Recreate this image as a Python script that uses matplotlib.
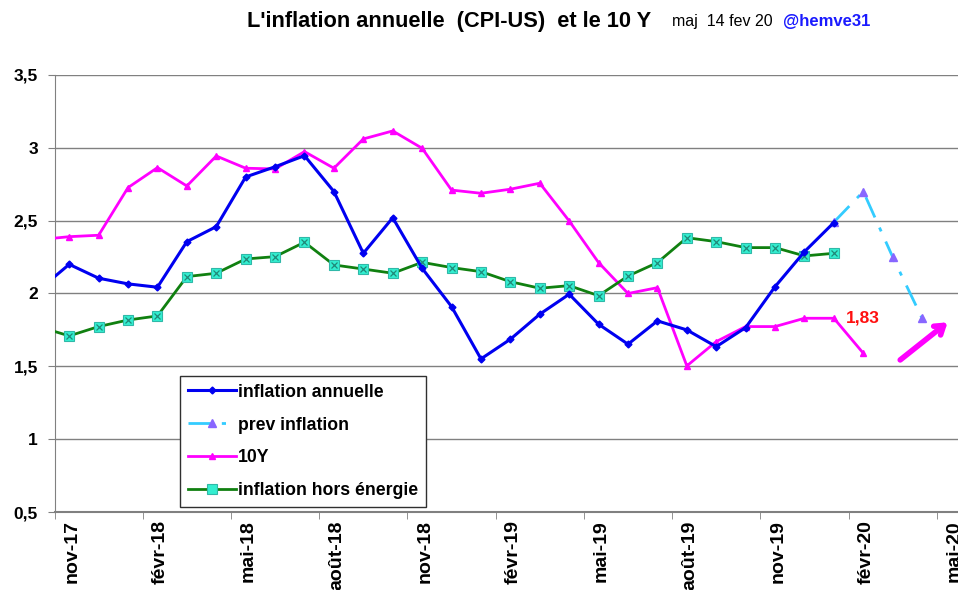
import matplotlib
matplotlib.use('Agg')
import matplotlib.pyplot as plt
import numpy as np

plt.rcParams['font.family'] = ['Liberation Sans', 'DejaVu Sans']

# monthly values, first entry = oct-17 (partly outside the axis on the left)
inflation = [2.03, 2.20, 2.105, 2.066, 2.043, 2.356, 2.459, 2.80, 2.87, 2.946,
             2.70, 2.276, 2.52, 2.173, 1.91, 1.551, 1.686, 1.858, 1.995, 1.789,
             1.652, 1.812, 1.75, 1.635, 1.766, 2.047, 2.287, 2.487]
taux_10y = [2.37, 2.39, 2.40, 2.727, 2.864, 2.738, 2.944, 2.86, 2.855, 2.974,
            2.86, 3.061, 3.116, 2.997, 2.71, 2.688, 2.716, 2.757, 2.498, 2.212,
            2.00, 2.04, 1.503, 1.67, 1.773, 1.773, 1.83, 1.83, 1.59]
hors_energie = [1.77, 1.709, 1.773, 1.818, 1.846, 2.116, 2.139, 2.237, 2.253, 2.352,
                2.196, 2.168, 2.139, 2.214, 2.178, 2.15, 2.081, 2.036, 2.054, 1.985,
                2.12, 2.212, 2.383, 2.356, 2.315, 2.315, 2.258, 2.276]
prev_inflation = [2.49, 2.70, 2.25, 1.83]  # janv-20 .. avr-20
prev_start = 27  # index of janv-20 in the monthly series

tick_labels = ['nov-17', 'févr-18', 'mai-18', 'août-18', 'nov-18', 'févr-19',
               'mai-19', 'août-19', 'nov-19', 'févr-20', 'mai-20']
last_10y_label = '1,83'


def month_x(n, start=0):
    # month centres; nov-17 spans [0, 1]
    return np.arange(start, start + n) - 0.5


fig = plt.figure(figsize=(9.58, 5.90), dpi=100)
ax = fig.add_axes([0.0569, 0.1322, 0.9431, 0.7407])

ax.plot(month_x(len(inflation)), inflation, color='#0000F0', lw=2.2,
        marker='D', ms=3.5, label='inflation annuelle', zorder=4)
ax.plot(month_x(len(prev_inflation), prev_start), prev_inflation, color='#33CCFF',
        lw=2, linestyle=(0, (8, 4, 1.5, 4)), marker='^', ms=6, mfc='#8866FF',
        mec='#8866FF', label='prev inflation', zorder=3)
ax.plot(month_x(len(taux_10y)), taux_10y, color='#FF00FF', lw=2,
        marker='^', ms=5, label='10Y', zorder=3)
ax.plot(month_x(len(hors_energie)), hors_energie, color='#108010', lw=2,
        marker='s', ms=6.5, mfc='#33EED0', mec='#30B8A8', mew=0.8,
        label='inflation hors énergie', zorder=3)
ax.plot(month_x(len(hors_energie)), hors_energie, linestyle='none',
        marker='x', ms=5, mec='#208878', mew=0.9, zorder=3)

ax.text(len(taux_10y) - 1.5, taux_10y[-3], last_10y_label, color='#FF1010',
        fontsize=12.5, fontweight='bold', ha='center', va='center')

ax.annotate('', xy=(30.44, 1.814), xytext=(28.68, 1.532),
            arrowprops=dict(arrowstyle='->,head_length=0.6,head_width=0.4',
                            color='#FF00FF', lw=4))

ax.set_xlim(0, 30.72)
ax.set_ylim(0.5, 3.5)
ax.set_yticks(np.arange(0.5, 3.51, 0.5))
ax.set_yticklabels([f'{v:g}'.replace('.', ',') for v in np.arange(0.5, 3.51, 0.5)],
                   fontsize=12.5, fontweight='bold')
ax.yaxis.grid(True, color='#808080', lw=1)
ax.set_axisbelow(True)

ax.set_xticks(np.arange(len(tick_labels)) * 3 + 0.6)
ax.set_xticklabels(tick_labels, rotation=90, fontsize=14, fontweight='bold')
ax.set_xticks(np.arange(len(tick_labels)) * 3, minor=True)
ax.tick_params(axis='x', which='major', length=0, pad=6)
ax.tick_params(axis='x', which='minor', length=5, color='#808080')
ax.tick_params(axis='y', length=5, pad=7, color='#808080')

for side in ['top', 'right']:
    ax.spines[side].set_visible(False)
ax.spines['left'].set_color('#808080')
ax.spines['bottom'].set_color('#808080')
ax.spines['bottom'].set_linewidth(1.5)

handles, labels = ax.get_legend_handles_labels()
leg = ax.legend(handles, labels, loc='lower left', bbox_to_anchor=(0.139, 0.011),
                borderaxespad=0, fancybox=False, framealpha=1, edgecolor='#303030',
                prop={'weight': 'bold', 'size': 12.7}, labelspacing=0.9,
                handlelength=2.7, handletextpad=0.15, borderpad=0.45)
leg.get_frame().set_linewidth(1)

fig.text(0.258, 0.964, "L'inflation annuelle  (CPI-US)  et le 10 Y",
         fontsize=15.7, fontweight='bold', ha='left', va='center')
fig.text(0.701, 0.964, 'maj  14 fev 20', fontsize=11.5, ha='left', va='center')
fig.text(0.817, 0.964, '@hemve31', fontsize=12, fontweight='bold', color='#1A1AFF',
         ha='left', va='center')

fig.savefig('out.png', dpi=100)
